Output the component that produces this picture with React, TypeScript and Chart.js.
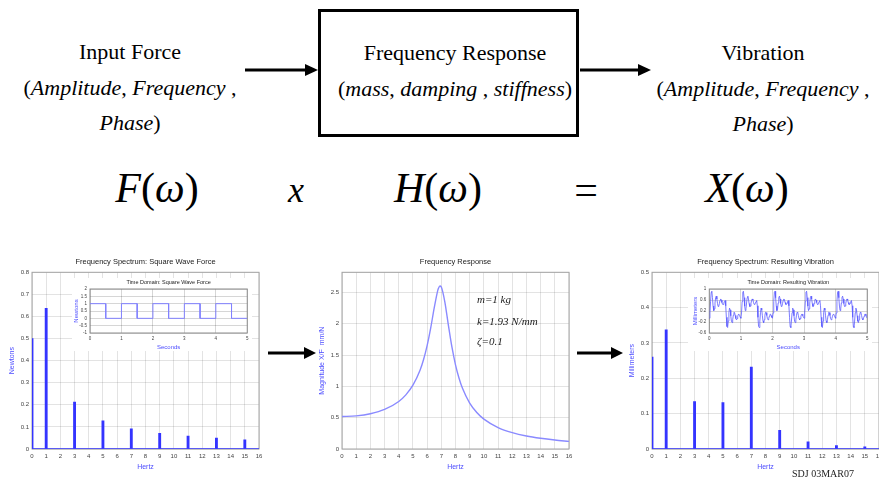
import React, { useEffect, useRef } from 'react';
import { Chart, registerables } from 'chart.js';
Chart.register(...registerables);

// ---------------- data ----------------
const HARMONIC_FREQ_HZ = [0, 1, 3, 5, 7, 9, 11, 13, 15];
const FORCE_AMP_N = [0.5, 0.637, 0.212, 0.127, 0.091, 0.071, 0.058, 0.049, 0.042];
const VIB_AMP_MM = [0.26, 0.337, 0.134, 0.131, 0.232, 0.053, 0.02, 0.01, 0.006];

const FRF_FREQ_HZ = [0, 1, 2, 3, 4, 4.5, 5, 5.5, 5.75, 6, 6.25, 6.5, 6.75, 6.8, 6.9, 7, 7.25, 7.5, 7.75, 8, 8.25, 8.5, 9, 9.5, 10, 11, 12, 13, 14, 15, 16];
const FRF_MAG_MM_PER_N = [0.518, 0.529, 0.563, 0.631, 0.759, 0.864, 1.018, 1.257, 1.428, 1.649, 1.928, 2.252, 2.532, 2.567, 2.602, 2.586, 2.345, 1.973, 1.624, 1.344, 1.13, 0.965, 0.733, 0.582, 0.477, 0.343, 0.262, 0.208, 0.171, 0.143, 0.121];

const SQ_TIME_S = [0, 0.5, 0.5, 1, 1, 1.5, 1.5, 2, 2, 2.5, 2.5, 3, 3, 3.5, 3.5, 4, 4, 4.5, 4.5, 5];
const SQ_FORCE_N = [1, 1, 0, 0, 1, 1, 0, 0, 1, 1, 0, 0, 1, 1, 0, 0, 1, 1, 0, 0];

// one period (1 s) of the resulting vibration, sampled every 0.02 s
const VIB_SAMPLE_S = 0.02;
const VIB_PERIODS = 5;
const VIB_ONE_PERIOD_MM = [
  -0.063, 0.128, 0.548, 0.88, 0.918, 0.685, 0.379, 0.214, 0.278, 0.491, 0.687, 0.74, 0.636,
  0.472, 0.364, 0.376, 0.48, 0.593, 0.638, 0.596, 0.509, 0.442, 0.436, 0.486, 0.548,
  0.581, 0.39, -0.03, -0.362, -0.4, -0.167, 0.139, 0.304, 0.24, 0.027, -0.169, -0.222, -0.118,
  0.046, 0.154, 0.142, 0.038, -0.075, -0.12, -0.078, 0.009, 0.076, 0.082, 0.032, -0.03,
];

const FREQ_TICKS_MAX = 16;
const TIME_TICKS_MAX = 5;

// ---------------- styles ----------------
const SANS = '"Liberation Sans", Arial, sans-serif';
const SERIF = '"Liberation Serif", "Times New Roman", "DejaVu Serif", serif';
const BAR_BLUE = '#3434ff';
const LABEL_BLUE = '#4d4dff';
const GRID = 'rgba(0,0,0,0.11)';
const FRAME = '#a4a4a4';
const TICK_COLOR = '#444';

const framePlugin = {
  id: 'frame',
  beforeDatasetsDraw(chart: any, _args: any, opts: any) {
    const { ctx, chartArea: a } = chart;
    ctx.save();
    ctx.strokeStyle = (opts && opts.color) || FRAME;
    ctx.lineWidth = 1;
    ctx.strokeRect(a.left, a.top, a.right - a.left, a.bottom - a.top);
    ctx.restore();
  },
};

const whiteBgPlugin = {
  id: 'whiteBg',
  beforeDraw(chart: any) {
    const { ctx, width, height } = chart;
    ctx.save();
    ctx.fillStyle = '#fff';
    ctx.fillRect(0, 0, width, height);
    ctx.restore();
  },
};

function mainScales(yMax: number, yStep: number, yTitle: string, yCallback?: (v: number) => string) {
  return {
    x: {
      type: 'linear',
      min: 0,
      max: FREQ_TICKS_MAX,
      offset: false,
      grid: { offset: false, color: GRID, drawTicks: false },
      border: { display: false },
      ticks: { stepSize: 1, padding: 4, autoSkip: false, maxRotation: 0, font: { family: SANS, size: 6 }, color: TICK_COLOR },
      title: { display: true, text: 'Hertz', color: LABEL_BLUE, font: { family: SANS, size: 7 }, padding: { top: 0, bottom: 8 } },
      afterFit: (s: any) => { s.height = 30; },
    },
    y: {
      type: 'linear',
      min: 0,
      max: yMax,
      grid: { color: GRID, drawTicks: false },
      border: { display: false },
      ticks: {
        stepSize: yStep, padding: 3, autoSkip: false, font: { family: SANS, size: 6 }, color: TICK_COLOR,
        ...(yCallback ? { callback: yCallback } : {}),
      },
      title: { display: true, text: yTitle, color: LABEL_BLUE, font: { family: SANS, size: 7 }, padding: { top: 7.5, bottom: 0 } },
      afterFit: (s: any) => { s.width = 32; },
    },
  };
}

function mainTitle(text: string) {
  return {
    display: true, text, fullSize: false, color: '#222',
    font: { family: SANS, size: 7.5, weight: 'normal' },
    padding: { top: 5.5, bottom: 5.8 },
  };
}

function spectrumConfig(title: string, yTitle: string, amps: number[], yMax: number): any {
  return {
    type: 'bar',
    data: {
      datasets: [
        {
          type: 'bar',
          data: HARMONIC_FREQ_HZ.map((f, i) => ({ x: f, y: amps[i] })),
          backgroundColor: BAR_BLUE,
          barThickness: 2.2,
          order: 1,
        },
        {
          type: 'line',
          data: [{ x: 0, y: 0 }, { x: FREQ_TICKS_MAX, y: 0 }],
          borderColor: BAR_BLUE,
          borderWidth: 1.5,
          pointRadius: 0,
          order: 0,
        },
      ],
    },
    options: {
      animation: false, responsive: false, devicePixelRatio: 1,
      layout: { padding: { left: 0, right: 11, top: 0, bottom: 0 } },
      plugins: { legend: { display: false }, tooltip: { enabled: false }, title: mainTitle(title), frame: { color: FRAME } },
      scales: mainScales(yMax, 0.1, yTitle),
    },
    plugins: [framePlugin],
  };
}

function frfConfig(): any {
  return {
    type: 'line',
    data: {
      datasets: [{
        data: FRF_FREQ_HZ.map((f, i) => ({ x: f, y: FRF_MAG_MM_PER_N[i] })),
        borderColor: '#8a8aff', borderWidth: 1.4, pointRadius: 0, cubicInterpolationMode: 'monotone', fill: false,
      }],
    },
    options: {
      animation: false, responsive: false, devicePixelRatio: 1,
      layout: { padding: { left: 0, right: 11, top: 0, bottom: 0 } },
      plugins: { legend: { display: false }, tooltip: { enabled: false }, title: mainTitle('Frequency Response'), frame: { color: FRAME } },
      scales: mainScales(2.82, 0.5, 'Magnitude X/F  mm/N', (v: number) =>
        Math.abs(v * 2 - Math.round(v * 2)) < 1e-6 ? String(Number(v.toFixed(1))) : ''),
    },
    plugins: [framePlugin],
  };
}

function insetConfig(opts: {
  title: string; yTitle: string; points: { x: number; y: number }[];
  yMin: number; yMax: number; yStep: number; yWidth: number; yTitlePad: number;
  color: string; lineWidth: number;
}): any {
  return {
    type: 'line',
    data: {
      datasets: [{ data: opts.points, borderColor: opts.color, borderWidth: opts.lineWidth, pointRadius: 0, tension: 0, fill: false }],
    },
    options: {
      animation: false, responsive: false, devicePixelRatio: 1,
      layout: { padding: { left: 0, right: 2.7, top: 0, bottom: 0 } },
      plugins: {
        legend: { display: false }, tooltip: { enabled: false }, frame: { color: '#8c8c8c' },
        title: { display: true, text: opts.title, fullSize: false, color: '#222', font: { family: SANS, size: 5.5, weight: 'normal' }, padding: { top: 0.7, bottom: 3.7 } },
      },
      scales: {
        x: {
          type: 'linear', min: 0, max: TIME_TICKS_MAX,
          grid: { color: 'rgba(0,0,0,0.16)', drawTicks: false }, border: { display: false },
          ticks: { stepSize: 1, padding: 3.5, autoSkip: false, maxRotation: 0, font: { family: SANS, size: 4.5 }, color: TICK_COLOR },
          title: { display: true, text: 'Seconds', color: LABEL_BLUE, font: { family: SANS, size: 6 }, padding: { top: 0, bottom: 0.4 } },
          afterFit: (s: any) => { s.height = 18; },
        },
        y: {
          type: 'linear', min: opts.yMin, max: opts.yMax,
          grid: { color: 'rgba(0,0,0,0.16)', drawTicks: false }, border: { display: false },
          ticks: { stepSize: opts.yStep, padding: 3, autoSkip: false, font: { family: SANS, size: 4.5 }, color: TICK_COLOR,
            callback: (v: number) => String(Number(v.toFixed(2))) },
          title: { display: true, text: opts.yTitle, color: LABEL_BLUE, font: { family: SANS, size: 6 }, padding: { top: opts.yTitlePad, bottom: 0 } },
          afterFit: (s: any) => { s.width = opts.yWidth; },
        },
      },
    },
    plugins: [whiteBgPlugin, framePlugin],
  };
}

function squareWavePoints() {
  return SQ_TIME_S.map((t, i) => ({ x: t, y: SQ_FORCE_N[i] }));
}

function vibrationPoints() {
  const pts: { x: number; y: number }[] = [];
  for (let p = 0; p < VIB_PERIODS; p++) {
    VIB_ONE_PERIOD_MM.forEach((v, k) => pts.push({ x: p + k * VIB_SAMPLE_S, y: v }));
  }
  pts.push({ x: VIB_PERIODS, y: VIB_ONE_PERIOD_MM[0] });
  return pts;
}

// ---------------- components ----------------
function ChartCanvas(props: { left: number; top: number; width: number; height: number; z: number; build: () => any }) {
  const ref = useRef<HTMLCanvasElement>(null);
  useEffect(() => {
    const chart = new Chart(ref.current as HTMLCanvasElement, props.build());
    return () => chart.destroy();
  }, []);
  return (
    <canvas
      ref={ref}
      width={props.width}
      height={props.height}
      style={{ position: 'absolute', left: props.left, top: props.top, width: props.width, height: props.height, zIndex: props.z }}
    />
  );
}

function T(props: { cx: number; cy: number; fs: number; italic?: boolean; children: React.ReactNode; color?: string; align?: 'center' | 'left'; z?: number }) {
  const align = props.align || 'center';
  const left = align === 'center' ? props.cx - 250 : props.cx;
  return (
    <div
      style={{
        position: 'absolute', left, width: 500, top: props.cy - props.fs * 0.5065,
        fontFamily: SERIF, fontWeight: 'normal',
        fontSize: props.fs, lineHeight: `${props.fs}px`, textAlign: align, whiteSpace: 'pre',
        fontStyle: props.italic ? 'italic' : 'normal', color: props.color || '#000', zIndex: props.z || 1,
      }}
    >
      {props.children}
    </div>
  );
}

function Arrow(props: { x1: number; x2: number; y: number; head?: number; half?: number; w?: number }) {
  const head = props.head ?? 13;
  const half = props.half ?? 6;
  const w = props.w ?? 3;
  const width = props.x2 - props.x1;
  return (
    <svg
      width={width}
      height={2 * half + 2}
      style={{ position: 'absolute', left: props.x1, top: props.y - half - 1, zIndex: 4, overflow: 'visible' }}
    >
      <line x1={0} y1={half + 1} x2={width - head + 1} y2={half + 1} stroke="#000" strokeWidth={w} />
      <polygon points={`${width - head},1 ${width},${half + 1} ${width - head},${2 * half + 1}`} fill="#000" />
    </svg>
  );
}

export default function App() {
  return (
    <div
      style={{
        position: 'fixed', left: 0, top: 0, width: 879, height: 479, overflow: 'hidden',
        background: '#fff', fontFamily: SERIF, color: '#000',
      }}
    >
      {/* block diagram */}
      <T cx={130} cy={52} fs={22}>Input Force</T>
      <T cx={130} cy={88} fs={22}>(<i>Amplitude</i>, <i>Frequency</i> ,</T>
      <T cx={130} cy={123} fs={22}><i>Phase</i>)</T>

      <div style={{ position: 'absolute', left: 318, top: 9, width: 261, height: 128, border: '3px solid #000', boxSizing: 'border-box' }} />
      <T cx={455} cy={53} fs={22}>Frequency Response</T>
      <T cx={455} cy={89} fs={22}>(<i>mass</i>, <i>damping</i> , <i>stiffness</i>)</T>

      <T cx={763} cy={53} fs={22}>Vibration</T>
      <T cx={763} cy={89} fs={22}>(<i>Amplitude</i>, <i>Frequency</i> ,</T>
      <T cx={763} cy={124} fs={22}><i>Phase</i>)</T>

      <Arrow x1={245} x2={318} y={70} />
      <Arrow x1={580} x2={651} y={70} />

      {/* equation */}
      <T cx={157} cy={188} fs={42}><i>F</i>(<i>ω</i>)</T>
      <T cx={296} cy={190} fs={36} italic>x</T>
      <T cx={438} cy={188} fs={42}><i>H</i>(<i>ω</i>)</T>
      <T cx={586} cy={190} fs={42}>=</T>
      <T cx={747} cy={188} fs={42}><i>X</i>(<i>ω</i>)</T>

      {/* charts */}
      <ChartCanvas left={0} top={252} width={270} height={227} z={1}
        build={() => spectrumConfig('Frequency Spectrum: Square Wave Force', 'Newtons', FORCE_AMP_N, 0.8)} />
      <ChartCanvas left={72} top={278} width={180} height={73} z={2}
        build={() => insetConfig({
          title: 'Time Domain: Square Wave Force', yTitle: 'Newtons', points: squareWavePoints(),
          yMin: -1, yMax: 2, yStep: 0.5, yWidth: 18, yTitlePad: 0.4, color: '#8282ff', lineWidth: 1,
        })} />

      <ChartCanvas left={310} top={252} width={270} height={227} z={1} build={() => frfConfig()} />

      <ChartCanvas left={620} top={252} width={270} height={227} z={1}
        build={() => spectrumConfig('Frequency Spectrum: Resulting Vibration', 'Millimeters', VIB_AMP_MM, 0.5)} />
      <ChartCanvas left={688} top={278} width={184} height={73} z={2}
        build={() => insetConfig({
          title: 'Time Domain: Resulting Vibration', yTitle: 'Millimeters', points: vibrationPoints(),
          yMin: -0.6, yMax: 1, yStep: 0.4, yWidth: 21.3, yTitlePad: 3.4, color: '#5a5aff', lineWidth: 0.8,
        })} />

      {/* annotations */}
      <T cx={477} cy={300} fs={11} italic align="left" z={3} color="#222">m=1 kg</T>
      <T cx={477} cy={322} fs={11} italic align="left" z={3} color="#222">k=1.93 N/mm</T>
      <T cx={477} cy={342} fs={11} italic align="left" z={3} color="#222">ζ=0.1</T>

      <Arrow x1={268} x2={316} y={353} head={12} half={6} />
      <Arrow x1={577} x2={623} y={353} head={12} half={6} />

      <T cx={823} cy={474} fs={10} z={3} color="#222">SDJ 03MAR07</T>
    </div>
  );
}
